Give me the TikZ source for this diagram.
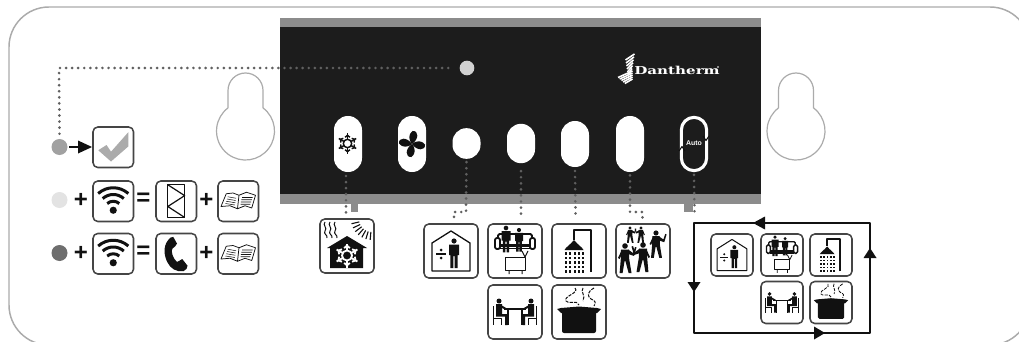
\documentclass[tikz,border=0pt]{standalone}
\usepackage{fontspec}
\setmainfont{Liberation Sans}
\newfontfamily\logofont{DejaVu Serif}
\usetikzlibrary{calc}
\definecolor{panel}{HTML}{1C1C1C}
\definecolor{band}{HTML}{8C8C8C}
\definecolor{edge}{HTML}{ABABAB}
\definecolor{frameC}{HTML}{454545}
\definecolor{dotC}{HTML}{606060}
\definecolor{ink}{HTML}{111111}
\tikzset{
  frameBox/.style={draw=frameC,fill=white,rounded corners=3.6pt,line width=1.15pt,inner sep=0pt,outer sep=0pt},
  dotLine/.style={draw=dotC,line width=2.2pt,line cap=round,dash pattern=on 0pt off 4.55pt},
  btnWhite/.style={fill=white,draw=none,inner sep=0pt,outer sep=0pt,minimum width=21pt,rounded corners=10.4pt},
  ledDot/.style={circle,draw=none,inner sep=0pt,minimum size=12pt},
  signText/.style={font=\bfseries\fontsize{18}{18}\selectfont,inner sep=0pt,text=ink},
  loopLine/.style={draw=ink,line width=2.1pt},
  keyHole/.style={draw=edge,line width=.9pt,fill=white},
}
\newcommand\iconat[5]{%
  \node[frameBox,minimum width=#4*0.75pt,minimum height=#4*0.75pt] (#1) at (#2+#4/2,#3+#4/2) {};
  \pgfmathsetmacro\icu{#4/54*0.75}
  \begin{scope}[shift={(#2,#3)},x=\icu pt,y=-\icu pt,ink,line join=round]
  #5
  \end{scope}}
\newcommand\flake[5]{%
  \begin{scope}[shift={(#1,#2)}]
  \foreach \a in {30,90,...,330}{
    \begin{scope}[rotate=\a]
    \draw[#4,line width=#5] (#3*.42,0)--(#3,0);
    \draw[#4,line width=#5] (#3*.62,-#3*.24)--(#3*.82,0)--(#3*.62,#3*.24);
    \end{scope}}
  \draw[#4,line width=#5] (0,0) circle (#3*.42);
  \end{scope}}
\newcommand\standing[3]{%
  \begin{scope}[shift={(#1,#2)},scale=#3]
  \fill (0,0) circle (2.6);
  \fill (-5,3.5)--(5,3.5)--(5,14)--(3.6,14)--(3.6,27)--(.6,27)--(.6,15)--(-.6,15)--(-.6,27)--(-3.6,27)--(-3.6,14)--(-5,14)--cycle;
  \end{scope}}
\newcommand\dancer[4]{%
  \begin{scope}[shift={(#1,#2)},scale=#3,xscale=#4]
  \fill (0,0) circle (2.8);
  \fill (-4,3.5)--(4,3.5)--(4.2,13)--(6.5,27)--(3.6,27)--(.4,15)--(-.4,15)--(-2.4,27)--(-5.4,27)--(-4.2,13)--cycle;
  \fill (3,3.5)--(8,7)--(10,1)--(11.5,1.5)--(9,10)--(3,8)--cycle;
  \fill (-3,3.5)--(-7,12)--(-5.5,13)--(-3,8)--cycle;
  \end{scope}}
\newcommand\sitter[3]{%
  \begin{scope}[shift={(#1,#2)},xscale=#3]
  \fill (0,0) circle (2.5);
  \fill (-3,3.2)--(3,3.2)--(3,13)--(8.5,13)--(8.5,24)--(6,24)--(6,15.5)--(-3,15.5)--cycle;
  \fill (2,4)--(8,7.5)--(7.4,9)--(2,6.6)--cycle;
  \draw[line width=1.3*\icu pt] (-5.5,5)--(-5.5,24) (-5.5,17.5)--(2.5,17.5)--(2.5,24);
  \end{scope}}
\newcommand\sofaIcon{
  \draw[line width=1.8*\icu pt,fill=white,rounded corners=1.5*\icu pt] (10,10) rectangle (44,22);
  \draw[line width=1.8*\icu pt,fill=white,rounded corners=2*\icu pt] (7,14) rectangle (12,25);
  \draw[line width=1.8*\icu pt,fill=white,rounded corners=2*\icu pt] (42,14) rectangle (47,25);
  \draw[line width=1.6*\icu pt] (12,21)--(42,21) (12,24.5)--(42,24.5);
  \standing{18}{4}{.9}
  \standing{31}{6}{.8}
  \draw[line width=1*\icu pt,fill=white] (17,33) rectangle (37,46);
  \draw[line width=1*\icu pt] (21,46)--(21,50) (34,46)--(34,50) (37,33)--(34,27) (37,33)--(40,27);
}
\newcommand\homeIcon{
  \draw[line width=1.3*\icu pt] (27,7)--(46,19)--(46,47)--(8,47)--(8,19)--cycle;
  \standing{30}{17}{1}
  \fill (12,29.2) rectangle (22,30.8);
  \fill (17,26) circle (1.5) (17,34) circle (1.5);
}
\newcommand\showerIcon{
  \draw[line width=2.4*\icu pt] (39,48)--(39,6)--(22,6)--(22,16);
  \fill (22,16) .. controls (18,21) and (14,23) .. (12.5,26) -- (31.5,26) .. controls (30,23) and (26,21) .. (22,16) -- cycle;
  \foreach \yy in {29.5,34,38.5,43,47.5}{\foreach \xx in {14,18.3,22.6,26.9,31}{\fill (\xx-1.05,\yy-1.05) rectangle (\xx+1.05,\yy+1.05);}}
}
\newcommand\tableIcon{
  \draw[line width=1.6*\icu pt] (16,24)--(38,24) (20,24)--(20,40) (34,24)--(34,40);
  \sitter{11}{16}{1}
  \sitter{43}{16}{-1}
}
\newcommand\potIcon{
  \fill[rounded corners=2*\icu pt] (10,25)--(44,25)--(44,48)--(10,48)--cycle;
  \fill (5,24)--(9,23)--(27,21.5)--(45,23)--(49,24)--(45,28)--(9,28)--cycle;
  \draw[line width=1*\icu pt,dash pattern=on 2.4pt off .9pt] (23,3) .. controls (28,8) and (11,11) .. (14,16) .. controls (16,20) and (25,14) .. (27,20);
  \draw[line width=1*\icu pt,dash pattern=on 2.4pt off .9pt] (31,3) .. controls (28,7) and (34,10) .. (31,16);
  \draw[line width=1*\icu pt,dash pattern=on 2.4pt off .9pt] (42,3) .. controls (35,7) and (35,11) .. (39,14) .. controls (44,16) and (44,18) .. (42,21);
}
\newcommand\wifiIcon{
  \fill (27,39) circle (4.8);
  \begin{scope}[shift={(27,39)},y=\icu pt]
  \foreach \r in {12,21,30}{\draw[line width=4*\icu pt] (132:\r) arc[start angle=132,end angle=48,radius=\r];}
  \end{scope}
}
\newcommand\bookIcon{
  \draw[line width=1*\icu pt,fill=white] (4,34)--(11,17)--(20,16)--(28,19)--(38,15)--(50,19)--(45,36)--(36,33)--(26,37)--(16,33)--cycle;
  \draw[line width=1*\icu pt] (28,19)--(26,37);
  \draw[line width=.7*\icu pt] (13,21)--(24,23) (12,24)--(23.5,26) (11,27)--(23,29) (10,30)--(22.5,32) (32,22)--(46,22) (31,25)--(45,25) (30.5,28)--(44,28) (30,31)--(43,31);
}
\newcommand\filterIcon{
  \draw[line width=1.6*\icu pt] (15.7,5) rectangle (38.2,48.6);
  \draw[line width=1.6*\icu pt] (15.7,5)--(38.2,19.5)--(15.7,34)--(38.2,48.6);
}
\newcommand\checkIcon{
  \fill[edge] (7,31)--(18,24)--(24,33)--(47,7)--(47,26)--(24,46)--cycle;
}
\newcommand\phoneIcon{
  \fill (16,9) .. controls (18,6) and (21,4) .. (23,4.5) -- (28,13.5) .. controls (27,16) and (24,19) .. (22,20) .. controls (19,23) and (23,34) .. (28,38) .. controls (30,37.5) and (32,35.5) .. (35,34) -- (42,43) .. controls (42,46) and (40,49) .. (37,50) .. controls (28,52) and (19,47) .. (15,38) .. controls (11,30) and (9,18) .. (16,9) -- cycle;
}
\newcommand\snowHouseIcon{
  \foreach \xx in {5,10,15}{\draw[line width=1*\icu pt] (\xx,3) .. controls (\xx-3,6) and (\xx+3,9) .. (\xx,12) .. controls (\xx-2,15) and (\xx+3,16) .. (\xx+2,19);}
  \foreach \a in {95,107,...,175}{\draw[line width=1.1*\icu pt] ($(52,0)+(\a:13)$)--($(52,0)+(\a:21)$);}
  \fill (27,17)--(47,29)--(43,29)--(43,49)--(10,49)--(10,29)--(7,29)--cycle;
  \flake{27}{36.5}{12}{white}{1.8*\icu pt}
}
\begin{document}
\begin{tikzpicture}[x=0.75pt,y=-0.75pt,line join=round]
\useasboundingbox (0,0) rectangle (1019,342);
\clip (0,0) rectangle (1019,342);
\fill[white] (0,0) rectangle (1019,342);
% outer casing
\draw[edge,line width=1.1pt,rounded corners=30pt] (9,7) rectangle (1030,345);
% keyholes
\foreach \kx in {245.5,796}{
  \begin{scope}[shift={(\kx,131)},y=0.75pt]
  \draw[keyHole] (-17.5,23.1) -- (-17.5,40.5) arc[start angle=180,end angle=0,radius=17.5] -- (17.5,23.1)
    arc[start angle=52.9,end angle=-232.9,radius=29] -- cycle;
  \end{scope}
}
% panel
\fill[band] (280,18) rectangle (761,204);
\fill[panel] (280,27) rectangle (761,194);
\fill[band] (351,204) rectangle (358,212);
\fill[band] (684,204) rectangle (693,212);
% buttons
\node[btnWhite,minimum height=42pt] (b1) at (348,144) {};
\node[btnWhite,minimum height=42pt] (b2) at (412,144) {};
\node[btnWhite,minimum height=23pt] (b3) at (466.5,143.5) {};
\node[btnWhite,minimum height=29.5pt] (b4) at (521,143.5) {};
\node[btnWhite,minimum height=34.5pt] (b5) at (575,144) {};
\node[btnWhite,minimum height=42pt] (b6) at (630,144) {};
\node[draw=white,line width=2.3pt,fill=panel,rounded corners=9.5pt,inner sep=0pt,minimum width=19pt,minimum height=40pt] (b7) at (694,144) {};
\node[text=white,font=\bfseries\fontsize{5.2}{5.2}\selectfont,inner sep=0pt] (autoT) at (694,143.5) {Auto};
\draw[ink,line width=.8pt] (679,151)--(682,146.5)--(685,151);
\draw[ink,line width=.8pt] (703,136)--(706,140.5)--(709,136);
\flake{347.5}{143.5}{10}{ink}{1.1pt}
\begin{scope}[shift={(412,144)}]
\foreach \a in {-35,55,145,235}{
  \fill[ink,rotate=\a] (0,0) .. controls (1,-5) and (6,-9) .. (11,-7) .. controls (15,-2) and (8,3) .. (0,0) -- cycle;}
\end{scope}
% logo
\node[text=white,inner sep=0pt,font=\logofont\bfseries\fontsize{10.5}{10.5}\selectfont,xscale=1.08,yscale=.78] (logo) at (677,70) {Dantherm};
\fill[white] (718,67) circle (.9);
\foreach \d in {0,1,2,3,4,5}{
  \draw[white,line width=1.2pt] (625.5+.5*\d,60+3*\d) -- (634.5-.5*\d,54+2.9*\d);
}
\foreach \d in {0,1,2,3,4}{
  \draw[white,line width=1.2pt] (618+1.7*\d,77.5+1.5*\d) -- (632.5,71+2*\d);
}
% LED and its dots
\node[ledDot,fill=white!82!black,minimum size=11pt] (led) at (467,68) {};
\coordinate (gc) at (59,68);
\node[ledDot,fill=black!37] (ledA) at (59.5,147) {};
\node[ledDot,fill=black!11] (ledB) at (59.5,200) {};
\node[ledDot,fill=black!57] (ledC) at (59.5,253) {};
\draw[dotLine] (ledA.north)++(0,-5) -- (gc) -- ([xshift=-6pt]led.west);
% left icons
\iconat{chk}{93}{127}{40.5}{\checkIcon}
\iconat{wfA}{93}{181}{40.5}{\wifiIcon}
\iconat{flt}{156}{181}{40.5}{\filterIcon}
\iconat{bkA}{218}{181}{40.5}{\bookIcon}
\iconat{wfB}{93}{233.5}{40.5}{\wifiIcon}
\iconat{phn}{156}{233.5}{40.5}{\phoneIcon}
\iconat{bkB}{218}{233.5}{40.5}{\bookIcon}
\draw[ink,line width=2pt] (ledA.east)++(1.5,0) -- (80,147);
\fill[ink] (92,147)--(78,140.5)--(78,153.5)--cycle;
\node[signText] (pA) at (81,200) {+};
\node[signText] (eA) at (143.5,199) {=};
\node[signText] (qA) at (206.5,200) {+};
\node[signText] (pB) at (81,253) {+};
\node[signText] (eB) at (143.5,252.5) {=};
\node[signText] (qB) at (206.5,253) {+};
% function icons
\iconat{iSnow}{320}{219}{54}{\snowHouseIcon}
\iconat{iHome}{424}{224}{54}{\homeIcon}
\iconat{iSofa}{488}{224}{54}{\sofaIcon}
\iconat{iShow}{552}{224}{54}{\showerIcon}
\iconat{iPart}{616}{224}{54}{
  \dancer{14}{4}{.55}{1}
  \dancer{25}{4}{.55}{-1}
  \dancer{40}{9}{.92}{1}
  \dancer{9}{22}{1}{1}
  \dancer{27}{21}{1}{-1}
}
\iconat{iTabl}{488}{285}{54}{\tableIcon}
\iconat{iPot}{552}{285}{54}{\potIcon}
% connectors from buttons
\coordinate (e1) at (346,214);
\coordinate (e3a) at (466,212);
\coordinate (e3b) at (454,212);
\coordinate (e3) at (454,219);
\coordinate (e4) at (521,214);
\coordinate (e5) at (575.5,214);
\coordinate (e6a) at (630,212);
\coordinate (e6b) at (642.5,212);
\coordinate (e6) at (642.5,219);
\coordinate (e7) at (694.5,212);
\draw[dotLine] ([xshift=-1.5pt,yshift=-3pt]b1.south) -- (e1);
\draw[dotLine] ([yshift=-2.5pt]b3.south) -- (e3a) -- (e3b) -- (e3);
\draw[dotLine] ([yshift=-6pt]b4.south) -- (e4);
\draw[dotLine] ([yshift=-3pt]b5.south) -- (e5);
\draw[dotLine] ([yshift=-2.5pt]b6.south) -- (e6a) -- (e6b) -- (e6);
\draw[dotLine] ([yshift=-2pt]b7.south) -- (e7);
% auto loop
\coordinate (la) at (694,223);
\coordinate (lb) at (870,223);
\coordinate (lc) at (870,333);
\coordinate (ld) at (694,333);
\draw[loopLine] (la) -- (lb) -- (lc) -- (ld) -- cycle;
\fill[ink] (753,223)--(765,216.5)--(765,229.5)--cycle;
\fill[ink] (870,248)--(863.5,258)--(876.5,258)--cycle;
\fill[ink] (694,292)--(687.5,282)--(700.5,282)--cycle;
\fill[ink] (825,333)--(814,326.5)--(814,339.5)--cycle;
\iconat{sHome}{711}{234}{42}{\homeIcon}
\iconat{sSofa}{761}{234}{42}{\sofaIcon}
\iconat{sShow}{810}{234}{42}{\showerIcon}
\iconat{sTabl}{761}{281.5}{42}{\tableIcon}
\iconat{sPot}{810}{281.5}{42}{\potIcon}
\end{tikzpicture}
\end{document}
